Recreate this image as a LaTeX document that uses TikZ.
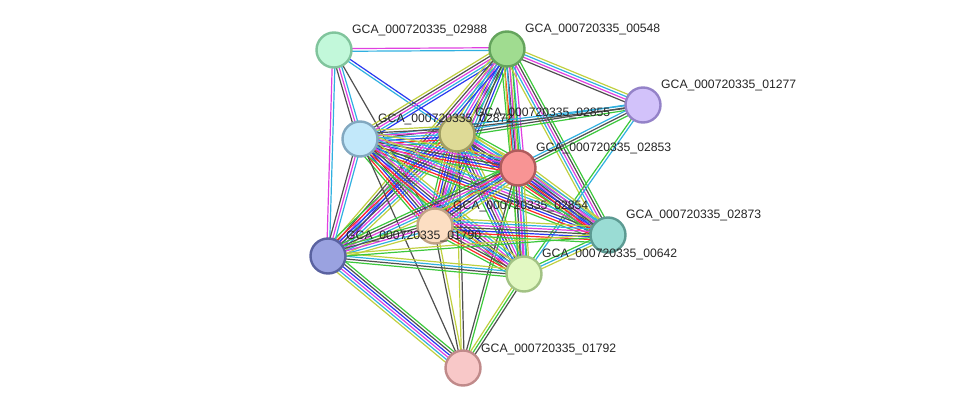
\documentclass[tikz,border=0pt]{standalone}
\usepackage{fontspec}
\setmainfont{Liberation Sans}
\usetikzlibrary{calc}
\definecolor{sG}{HTML}{3CC83C}
\definecolor{sR}{HTML}{FF2828}
\definecolor{sB}{HTML}{2838F0}
\definecolor{sK}{HTML}{505050}
\definecolor{sM}{HTML}{E040E0}
\definecolor{sC}{HTML}{30B0E0}
\definecolor{sY}{HTML}{C0D040}
\definecolor{fa}{HTML}{C2F8DA}\definecolor{da}{HTML}{80C49C}
\definecolor{fb}{HTML}{A0DC90}\definecolor{db}{HTML}{64A45C}
\definecolor{fc}{HTML}{D2C2FA}\definecolor{dc}{HTML}{9482C8}
\definecolor{fd}{HTML}{DEDA96}\definecolor{dd}{HTML}{A09E62}
\definecolor{fe}{HTML}{C2E8FA}\definecolor{de}{HTML}{82A8C0}
\definecolor{ff}{HTML}{F89494}\definecolor{df}{HTML}{B05C5C}
\definecolor{fg}{HTML}{FCDEC2}\definecolor{dg}{HTML}{C0A284}
\definecolor{fh}{HTML}{9ADCD4}\definecolor{dh}{HTML}{5C9A92}
\definecolor{fi}{HTML}{9AA2E0}\definecolor{di}{HTML}{5A62A0}
\definecolor{fj}{HTML}{E2F8C2}\definecolor{dj}{HTML}{A2C284}
\definecolor{fk}{HTML}{F8C8C8}\definecolor{dk}{HTML}{C08A8A}
\newcommand{\lw}{1.2pt}
\newcommand{\lsep}{2.7}
\newcommand{\medge}[3]{%
  \foreach \cc [count=\ii] in {#3} {\xdef\nlines{\ii}}%
  \foreach \cc [count=\ii] in {#3} {%
    \pgfmathsetmacro{\off}{(\ii-(\nlines+1)/2)*\lsep}%
    \draw[line width=\lw, color=\cc] ($(#1)!\off pt!90:(#2)$) -- ($(#2)!\off pt!-90:(#1)$);
  }%
}
\tikzset{
  prot/.style={circle, minimum size=35pt, inner sep=0pt, line width=2.4pt},
  lbl/.style={anchor=base west, font=\fontsize{12.2pt}{14pt}\selectfont, text=black!85, inner sep=0pt}
}
\begin{document}
\begin{tikzpicture}[x=1pt,y=-1pt]
\useasboundingbox (0,0) rectangle (975,414);
\coordinate (a) at (334,50);
\coordinate (b) at (507,49);
\coordinate (c) at (643,105);
\coordinate (d) at (457,134);
\coordinate (e) at (360,139);
\coordinate (f) at (518,168);
\coordinate (g) at (435,226);
\coordinate (h) at (608,235);
\coordinate (i) at (328,256);
\coordinate (j) at (524,274);
\coordinate (k) at (463,368);
% edges
\medge{a}{b}{sC,sM}
\medge{a}{i}{sM,sC}
\medge{a}{e}{sK,sM,sC}
\medge{a}{d}{sC,sB}
\medge{a}{g}{sK}
\medge{b}{c}{sK,sM,sC,sY}
\medge{b}{e}{sY,sK,sM,sC,sB}
\medge{b}{d}{sY,sC,sM,sB,sK,sG}
\medge{b}{f}{sG,sR,sK,sY,sC,sM}
\medge{b}{g}{sY,sM,sC,sK,sB,sG}
\medge{b}{i}{sY,sK,sM,sC,sB}
\medge{b}{j}{sY,sC,sM,sG}
\medge{b}{h}{sY,sC,sM,sK,sG}
\medge{c}{d}{sC,sK,sG}
\medge{c}{e}{sC,sK}
\medge{c}{f}{sC,sK,sG}
\medge{c}{j}{sG,sC}
\medge{d}{e}{sY,sK,sM,sC,sB,sR,sG}
\medge{d}{f}{sR,sB,sK,sM,sC,sY,sG}
\medge{d}{g}{sG,sR,sB,sK,sM,sC,sY}
\medge{d}{i}{sG,sR,sB,sK,sM,sC,sY}
\medge{d}{h}{sG,sR,sB,sK,sM,sC,sY}
\medge{d}{j}{sG,sB,sK,sM,sC,sY}
\medge{d}{k}{sY,sK}
\medge{e}{f}{sG,sR,sB,sK,sM,sC,sY}
\medge{e}{g}{sG,sR,sB,sK,sM,sC,sY}
\medge{e}{i}{sK,sM,sC}
\medge{e}{h}{sG,sR,sB,sK,sM,sC,sY}
\medge{e}{j}{sG,sR,sB,sK,sM,sC,sY}
\medge{e}{k}{sK}
\medge{f}{g}{sG,sR,sB,sK,sM,sC,sY}
\medge{f}{i}{sG,sK,sM,sC,sY}
\medge{f}{h}{sG,sR,sB,sK,sM,sC,sY}
\medge{f}{j}{sG,sK,sM,sC,sY}
\medge{f}{k}{sK,sG}
\medge{g}{i}{sG,sK,sM,sC,sY}
\medge{g}{h}{sG,sR,sB,sK,sM,sC,sY}
\medge{g}{j}{sG,sR,sK,sM,sC,sY}
\medge{g}{k}{sK,sY}
\medge{h}{j}{sG,sC,sY}
\medge{i}{j}{sG,sK,sC,sY}
\medge{i}{h}{sG,sY}
\medge{i}{k}{sY,sC,sM,sB,sK,sG}
\medge{j}{k}{sY,sG,sK}
% nodes
\node[prot, fill=fa, draw=da] (na) at (a) {};
\node[prot, fill=fb, draw=db] (nb) at (b) {};
\node[prot, fill=fc, draw=dc] (nc) at (c) {};
\node[prot, fill=fd, draw=dd] (nd) at (d) {};
\node[prot, fill=fe, draw=de] (ne) at (e) {};
\node[prot, fill=ff, draw=df] (nf) at (f) {};
\node[prot, fill=fg, draw=dg] (ng) at (g) {};
\node[prot, fill=fh, draw=dh] (nh) at (h) {};
\node[prot, fill=fi, draw=di] (ni) at (i) {};
\node[prot, fill=fj, draw=dj] (nj) at (j) {};
\node[prot, fill=fk, draw=dk] (nk) at (k) {};
% labels
\node[lbl] (la) at ($(a)+(18,-16)$) {GCA\_000720335\_02988};
\node[lbl] (lb) at ($(b)+(18,-16)$) {GCA\_000720335\_00548};
\node[lbl] (lc) at ($(c)+(18,-16)$) {GCA\_000720335\_01277};
\node[lbl] (ld) at ($(d)+(18,-17)$) {GCA\_000720335\_02855};
\node[lbl] (le) at ($(e)+(18,-16)$) {GCA\_000720335\_02872};
\node[lbl] (lf) at ($(f)+(18,-16)$) {GCA\_000720335\_02853};
\node[lbl] (lg) at ($(g)+(18,-16)$) {GCA\_000720335\_02854};
\node[lbl] (lh) at ($(h)+(18,-16)$) {GCA\_000720335\_02873};
\node[lbl] (li) at ($(i)+(18,-16)$) {GCA\_000720335\_01790};
\node[lbl] (lj) at ($(j)+(18,-16)$) {GCA\_000720335\_00642};
\node[lbl] (lk) at ($(k)+(18,-16)$) {GCA\_000720335\_01792};
\end{tikzpicture}
\end{document}
